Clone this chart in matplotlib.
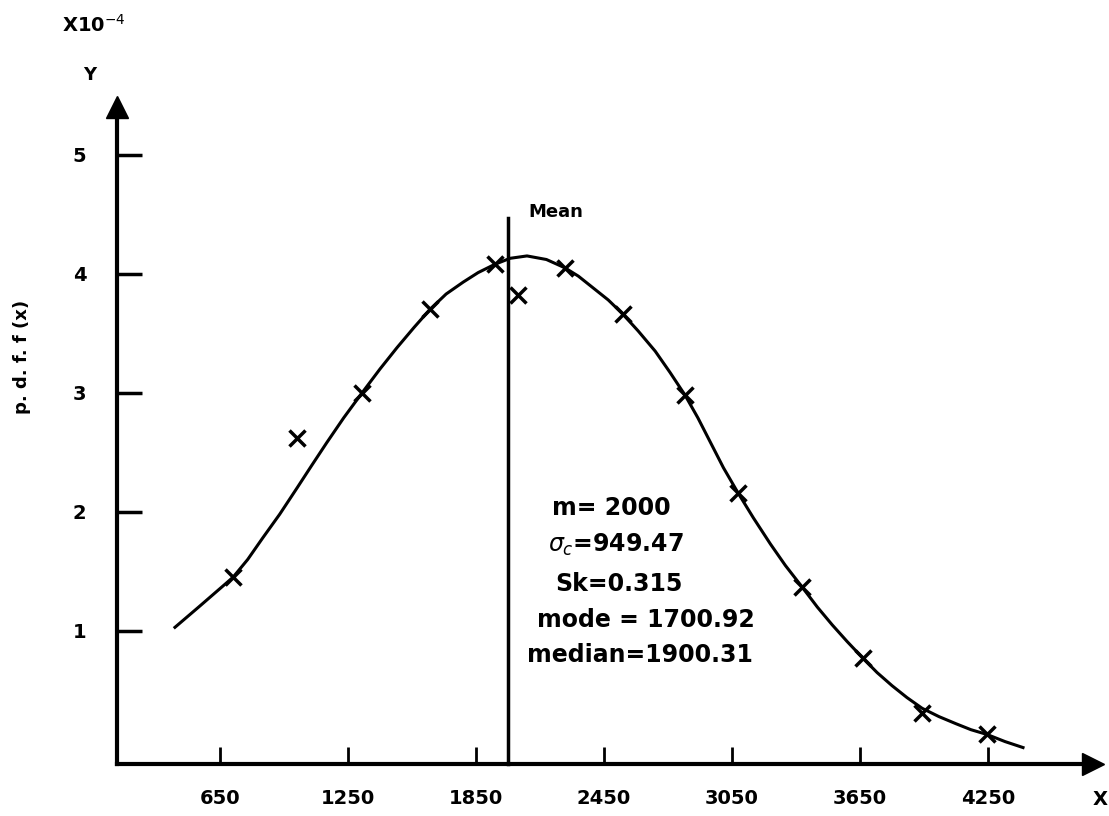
import numpy as np
import matplotlib.pyplot as plt

# fitted curve
curve_x = [439, 550, 711, 780, 850, 930, 1011, 1080, 1150, 1230, 1316, 1400, 1480,
           1560, 1634, 1710, 1790, 1860, 1939, 2010, 2089, 2180, 2267, 2330, 2400,
           2470, 2539, 2610, 2690, 2760, 2830, 2890, 2950, 3010, 3078, 3150, 3230,
           3300, 3378, 3450, 3520, 3590, 3664, 3730, 3800, 3870, 3941, 4020, 4100,
           4170, 4245, 4330, 4414]
curve_y = [1.03, 1.20, 1.45, 1.60, 1.78, 1.98, 2.20, 2.39, 2.58, 2.79, 3.00, 3.20, 3.38,
           3.55, 3.70, 3.83, 3.93, 4.01, 4.08, 4.13, 4.15, 4.12, 4.05, 3.98, 3.88,
           3.78, 3.66, 3.52, 3.35, 3.17, 2.98, 2.79, 2.58, 2.37, 2.16, 1.95, 1.73,
           1.55, 1.37, 1.20, 1.05, 0.91, 0.77, 0.65, 0.54, 0.44, 0.35, 0.28, 0.22,
           0.17, 0.13, 0.07, 0.02]

# observed points (x marks)
obs_x = [711, 1011, 1316, 1634, 1939, 2047, 2267, 2539, 2830, 3078, 3378, 3664, 3941, 4245]
obs_y = [1.45, 2.62, 3.00, 3.70, 4.08, 3.82, 4.05, 3.66, 2.98, 2.16, 1.37, 0.77, 0.31, 0.13]

xticks = [650, 1250, 1850, 2450, 3050, 3650, 4250]
yticks = [1, 2, 3, 4, 5]
mean = 2000
stats = ["m= 2000", r"$\sigma_c$=949.47", "Sk=0.315", "mode = 1700.92", "median=1900.31"]

x0, y0 = 167, -0.12   # where the hand-drawn axes cross

fig = plt.figure(figsize=(11.09, 8.16), dpi=100)
ax = fig.add_axes([0, 0, 1, 1])
ax.set_xlim(-381, 4817)
ax.set_ylim(-0.555, 6.30)

for s in ['top', 'right']:
    ax.spines[s].set_visible(False)
ax.spines['left'].set_position(('data', x0))
ax.spines['bottom'].set_position(('data', y0))
ax.spines['left'].set_bounds(y0, 5.40)
ax.spines['bottom'].set_bounds(x0, 4740)
ax.spines['left'].set_linewidth(3)
ax.spines['bottom'].set_linewidth(3)
ax.plot(x0, 5.40, marker='^', ms=16, color='k', clip_on=False)
ax.plot(4740, y0, marker='>', ms=16, color='k', clip_on=False)

ax.set_xticks(xticks)
ax.set_yticks(yticks)
ax.set_xticklabels([str(t) for t in xticks], fontsize=14, fontweight='bold')
ax.set_yticklabels([str(t) for t in yticks], fontsize=14, fontweight='bold')
ax.tick_params(axis='x', direction='in', length=12, width=2, pad=18)
ax.tick_params(axis='y', direction='in', length=18, width=2.5, pad=22)

ax.plot(curve_x, curve_y, color='k', lw=2.2)
ax.plot(obs_x, obs_y, 'x', color='k', ms=11, mew=2.5)

ax.plot([mean, mean], [y0, 4.47], color='k', lw=2.5)
ax.text(2094, 4.52, "Mean", fontsize=13, fontweight='bold', va='center')

stat_pos = [(2206, 2.03), (2187, 1.72), (2220, 1.39), (2136, 1.09), (2089, 0.80)]
for (sx, sy), s in zip(stat_pos, stats):
    ax.text(sx, sy, s, fontsize=17, fontweight='bold', va='center')

ax.text(60, 6.09, "X10$^{-4}$", fontsize=14, fontweight='bold', va='center', ha='center')
ax.text(41, 5.67, "Y", fontsize=13, fontweight='bold', va='center', ha='center')
ax.text(-280, 3.30, "p. d. f. f (x)", fontsize=13, fontweight='bold', rotation=90,
        va='center', ha='center')
ax.text(4812, -0.42, "X", fontsize=14, fontweight='bold', va='center', ha='right')

fig.savefig('out.png', dpi=100)
